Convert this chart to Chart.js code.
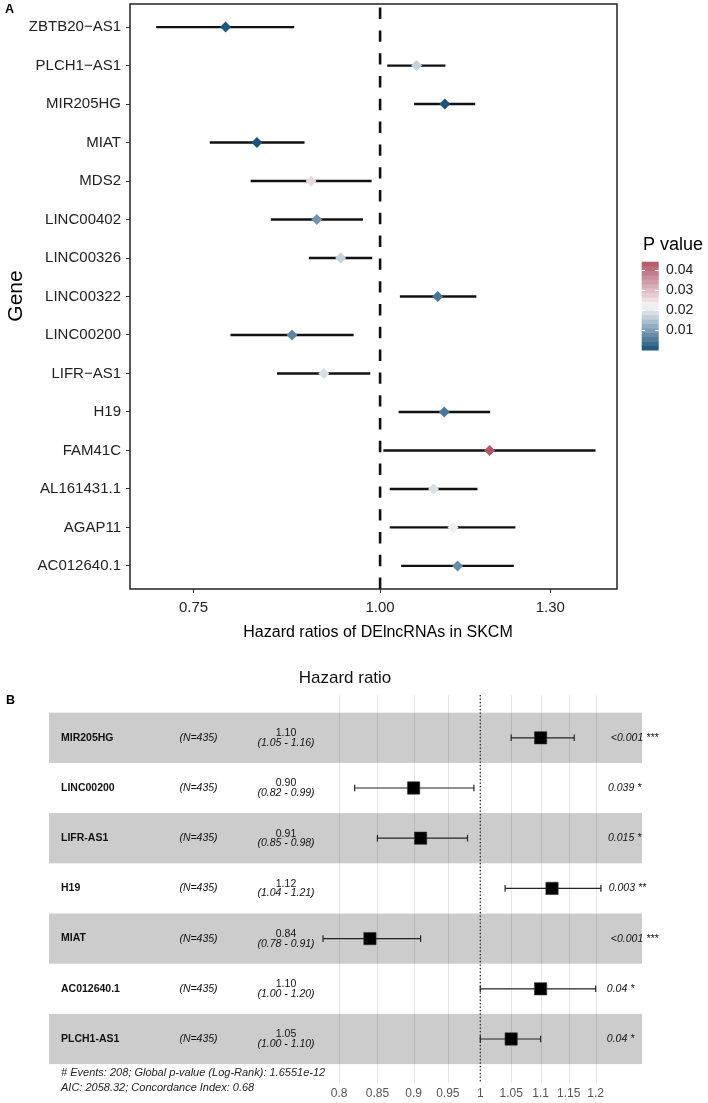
<!DOCTYPE html>
<html>
<head>
<meta charset="utf-8">
<script src="https://cdn.jsdelivr.net/npm/chart.js@4.4.0/dist/chart.umd.min.js"></script>
<style>
  body { margin: 0; background: #fff; width: 708px; height: 1103px; position: relative; overflow: hidden; }
  canvas { position: absolute; left: 0; }
  #chartA { top: 0; }
  #chartB { top: 650px; }
</style>
</head>
<body>
<canvas id="chartA" width="708" height="650"></canvas>
<canvas id="chartB" width="708" height="453"></canvas>
<script>
// ---- panel A data ----
const genesA = ['ZBTB20-AS1', 'PLCH1-AS1', 'MIR205HG', 'MIAT', 'MDS2', 'LINC00402', 'LINC00326', 'LINC00322',
  'LINC00200', 'LIFR-AS1', 'H19', 'FAM41C', 'AL161431.1', 'AGAP11', 'AC012640.1'];
const hrA   = [0.788, 1.058, 1.105, 0.827, 0.899, 0.907, 0.941, 1.093, 0.873, 0.917, 1.104, 1.184, 1.086, 1.119, 1.127];
const lowA  = [0.708, 1.011, 1.054, 0.769, 0.819, 0.845, 0.896, 1.031, 0.794, 0.853, 1.029, 1.005, 1.015, 1.015, 1.033];
const highA = [0.876, 1.106, 1.158, 0.890, 0.987, 0.974, 0.988, 1.160, 0.960, 0.985, 1.185, 1.394, 1.162, 1.232, 1.229];
const pA    = [0.0008, 0.017, 0.0006, 0.0004, 0.026, 0.009, 0.017, 0.005, 0.007, 0.019, 0.005, 0.044, 0.019, 0.021, 0.008];
const ticksA = [0.75, 1.00, 1.30];
const pTicks = [0.01, 0.02, 0.03, 0.04];

// ---- panel B data ----
const genesB = ['MIR205HG', 'LINC00200', 'LIFR-AS1', 'H19', 'MIAT', 'AC012640.1', 'PLCH1-AS1'];
const nB     = [435, 435, 435, 435, 435, 435, 435];
const hrB    = [1.10, 0.90, 0.91, 1.12, 0.84, 1.10, 1.05];
const lowB   = [1.05, 0.82, 0.85, 1.04, 0.78, 1.00, 1.00];
const highB  = [1.16, 0.99, 0.98, 1.21, 0.91, 1.20, 1.10];
const pB     = ['<0.001', '0.039', '0.015', '0.003', '<0.001', '0.04', '0.04'];
const starsB = ['***', '*', '*', '**', '***', '*', '*'];
const ticksB = [0.8, 0.85, 0.9, 0.95, 1, 1.05, 1.1, 1.15, 1.2];
const footerB = ['# Events: 208; Global p-value (Log-Rank): 1.6551e-12', 'AIC: 2058.32; Concordance Index: 0.68'];

const FONT = "'Liberation Sans', Arial, Helvetica, sans-serif";
Chart.defaults.font.family = FONT;

// p value colour scale (blue - white - red)
const LOW = [26, 82, 125], MID = [247, 247, 247], HIGH = [178, 86, 104];
const P_LO = 0.0003, P_MID = 0.022, P_HI = 0.044;
function pColor(p) {
  let a, b, t;
  if (p <= P_MID) { a = LOW; b = MID; t = (p - P_LO) / (P_MID - P_LO); }
  else { a = MID; b = HIGH; t = (p - P_MID) / (P_HI - P_MID); }
  t = Math.max(0, Math.min(1, t));
  return 'rgb(' + a.map((c, i) => Math.round(c + (b[i] - c) * t)).join(',') + ')';
}

function line(ctx, x1, y1, x2, y2) {
  ctx.beginPath(); ctx.moveTo(x1, y1); ctx.lineTo(x2, y2); ctx.stroke();
}

function noPad(s) {
  s.paddingTop = 0; s.paddingBottom = 0; s.paddingLeft = 0; s.paddingRight = 0;
}

const panelA = {
  id: 'panelA',
  beforeDatasetsDraw(chart) {
    const { ctx, chartArea: a, scales: { x, y } } = chart;
    ctx.save();
    // reference line at HR = 1
    const x1 = x.getPixelForValue(1);
    ctx.strokeStyle = '#111';
    ctx.lineWidth = 2.6;
    ctx.setLineDash([11.4, 11.4]);
    line(ctx, x1, a.bottom, x1, a.top);
    ctx.setLineDash([]);
    // confidence intervals
    ctx.lineWidth = 2.4;
    genesA.forEach((g, i) => {
      const py = y.getPixelForValue(i + 1);
      line(ctx, x.getPixelForValue(lowA[i]), py, x.getPixelForValue(highA[i]), py);
    });
    ctx.restore();
  },
  afterDraw(chart) {
    const { ctx, chartArea: a } = chart;
    ctx.save();
    ctx.strokeStyle = '#222';
    ctx.lineWidth = 1.5;
    ctx.strokeRect(a.left, a.top, a.right - a.left, a.bottom - a.top);

    ctx.fillStyle = '#000';
    ctx.font = 'bold 12.5px ' + FONT;
    ctx.textAlign = 'left';
    ctx.textBaseline = 'middle';
    ctx.fillText('A', 5, 10);

    ctx.font = '16px ' + FONT;
    ctx.textAlign = 'center';
    ctx.fillText('Hazard ratios of DElncRNAs in SKCM', 378, 633);

    ctx.save();
    ctx.translate(16, 296);
    ctx.rotate(-Math.PI / 2);
    ctx.font = '21px ' + FONT;
    ctx.fillText('Gene', 0, 0);
    ctx.restore();

    // colour bar legend
    ctx.textAlign = 'left';
    ctx.font = '18px ' + FONT;
    ctx.fillText('P value', 643, 245);
    const top = 261.7, bot = 350, bx = 641.7, bw = 17;
    const yP = p => bot - (p - P_LO) / (P_HI - P_LO) * (bot - top);
    const nbin = 20;
    for (let k = 0; k < nbin; k++) {
      const p0 = P_LO + (P_HI - P_LO) * k / nbin;
      const p1 = P_LO + (P_HI - P_LO) * (k + 1) / nbin;
      ctx.fillStyle = pColor((p0 + p1) / 2);
      ctx.fillRect(bx, yP(p1), bw, yP(p0) - yP(p1) + 0.5);
    }
    ctx.strokeStyle = '#fff';
    ctx.lineWidth = 1;
    ctx.font = '14px ' + FONT;
    pTicks.forEach(p => {
      const py = Math.round(yP(p)) + 0.5;
      line(ctx, bx, py, bx + 3.4, py);
      line(ctx, bx + bw - 3.4, py, bx + bw, py);
      ctx.fillStyle = '#222';
      ctx.fillText(p.toFixed(2), 666, py);
    });
    ctx.restore();
  }
};

new Chart(document.getElementById('chartA'), {
  type: 'scatter',
  data: {
    datasets: [{
      data: genesA.map((g, i) => ({ x: hrA[i], y: i + 1 })),
      pointStyle: 'rectRot',
      pointRadius: 5.5,
      pointBorderWidth: 0,
      pointBackgroundColor: pA.map(pColor)
    }]
  },
  options: {
    responsive: false,
    animation: false,
    events: [],
    layout: { padding: { left: 0, right: 91, top: 4, bottom: 0 }, autoPadding: false },
    plugins: { legend: { display: false }, tooltip: { enabled: false } },
    scales: {
      x: {
        type: 'logarithmic',
        min: 0.684,
        max: 1.441,
        afterBuildTicks: s => { s.ticks = ticksA.map(v => ({ value: v })); },
        afterFit: s => { s.height = 61; noPad(s); },
        ticks: { callback: v => Number(v).toFixed(2), font: { size: 15 }, color: '#222', padding: 6, maxRotation: 0, autoSkip: false },
        grid: { drawOnChartArea: false, tickLength: 4, color: '#333' },
        border: { display: false }
      },
      y: {
        type: 'linear',
        reverse: true,
        min: 0.4,
        max: 15.6,
        afterBuildTicks: s => { s.ticks = genesA.map((g, i) => ({ value: i + 1 })); },
        afterFit: s => { s.width = 130; noPad(s); },
        ticks: { callback: v => genesA[v - 1].replace('-', '\u2212'), font: { size: 15 }, color: '#222', padding: 5, autoSkip: false },
        grid: { drawOnChartArea: false, tickLength: 4, color: '#333' },
        border: { display: false }
      }
    }
  },
  plugins: [panelA]
});

const panelB = {
  id: 'panelB',
  beforeDatasetsDraw(chart) {
    const { ctx, chartArea: a, scales: { x, y } } = chart;
    ctx.save();
    // vertical grid
    ctx.strokeStyle = '#e6e6e6';
    ctx.lineWidth = 1;
    ticksB.forEach(v => {
      const px = Math.round(x.getPixelForValue(v)) + 0.5;
      line(ctx, px, 45, px, 433);
    });
    // alternating row bands
    ctx.fillStyle = 'rgba(0,0,0,0.2)';
    genesB.forEach((g, i) => {
      if (i % 2 === 0) {
        const t = y.getPixelForValue(i + 0.5), b = y.getPixelForValue(i + 1.5);
        ctx.fillRect(a.left, t, a.right - a.left, b - t);
      }
    });
    // dotted line at HR = 1
    const x1 = x.getPixelForValue(1);
    ctx.strokeStyle = '#222';
    ctx.lineWidth = 1.3;
    ctx.setLineDash([1.3, 2.2]);
    line(ctx, x1, 45, x1, 433);
    ctx.setLineDash([]);
    // error bars
    ctx.strokeStyle = '#222';
    ctx.lineWidth = 1.2;
    genesB.forEach((g, i) => {
      const py = y.getPixelForValue(i + 1);
      const l = x.getPixelForValue(lowB[i]), r = x.getPixelForValue(highB[i]);
      line(ctx, l, py, r, py);
      line(ctx, l, py - 3.3, l, py + 3.3);
      line(ctx, r, py - 3.3, r, py + 3.3);
    });
    ctx.restore();
  },
  afterDraw(chart) {
    const { ctx, scales: { y } } = chart;
    ctx.save();
    ctx.textBaseline = 'middle';
    ctx.fillStyle = '#000';
    ctx.font = 'bold 12.5px ' + FONT;
    ctx.textAlign = 'left';
    ctx.fillText('B', 6, 51);
    ctx.font = '17px ' + FONT;
    ctx.textAlign = 'center';
    ctx.fillStyle = '#111';
    ctx.fillText('Hazard ratio', 345, 28);

    genesB.forEach((g, i) => {
      const py = y.getPixelForValue(i + 1);
      ctx.fillStyle = '#111';
      ctx.textAlign = 'left';
      ctx.font = 'bold 10.5px ' + FONT;
      ctx.fillText(g, 61, py);
      ctx.textAlign = 'center';
      ctx.font = 'italic 10.5px ' + FONT;
      ctx.fillText('(N=' + nB[i] + ')', 198.5, py);
      ctx.font = '10.5px ' + FONT;
      ctx.fillText(hrB[i].toFixed(2), 286, py - 4.5);
      ctx.font = 'italic 10.5px ' + FONT;
      ctx.fillText('(' + lowB[i].toFixed(2) + ' - ' + highB[i].toFixed(2) + ')', 286, py + 5);
      ctx.textAlign = 'left';
      const label = pB[i] + ' ' + starsB[i];
      const w = ctx.measureText(label).width;
      ctx.fillText(label, 601.3 + 0.2 * w, py);
    });

    ctx.font = 'italic 11px ' + FONT;
    ctx.fillStyle = '#222';
    ctx.textAlign = 'left';
    ctx.fillText(footerB[0], 61, 422.7);
    ctx.fillText(footerB[1], 61, 438.3);
    ctx.restore();
  }
};

new Chart(document.getElementById('chartB'), {
  type: 'scatter',
  data: {
    datasets: [{
      data: genesB.map((g, i) => ({ x: hrB[i], y: i + 1 })),
      pointStyle: 'rect',
      pointRadius: 8.7,
      pointBorderWidth: 0.6,
      pointBorderColor: '#333',
      pointBackgroundColor: '#000'
    }]
  },
  options: {
    responsive: false,
    animation: false,
    events: [],
    layout: { padding: { left: 49, right: 66, top: 62.7, bottom: 0 }, autoPadding: false },
    plugins: { legend: { display: false }, tooltip: { enabled: false } },
    scales: {
      x: {
        type: 'logarithmic',
        min: 0.5059,
        max: 1.2911,
        afterBuildTicks: s => { s.ticks = ticksB.map(v => ({ value: v })); },
        afterFit: s => { s.height = 38.9; noPad(s); },
        ticks: { callback: v => String(v), font: { size: 12 }, color: '#555', padding: 22, maxRotation: 0, autoSkip: false },
        grid: { display: false, drawTicks: false },
        border: { display: false }
      },
      y: {
        type: 'linear',
        reverse: true,
        min: 0.5,
        max: 7.5,
        display: false
      }
    }
  },
  plugins: [panelB]
});
</script>
</body>
</html>
